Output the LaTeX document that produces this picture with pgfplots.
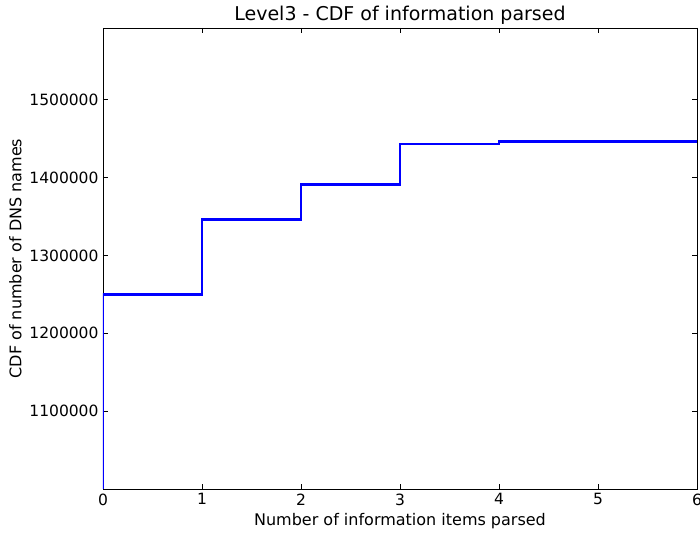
\documentclass[border=0pt]{standalone}
\usepackage{fontspec}
\setmainfont{DejaVu Sans}
\usepackage{pgfplots}
\pgfplotsset{compat=1.18}
\begin{document}
\begin{tikzpicture}[x=1pt,y=1pt]
\path[use as bounding box] (-103,-46) rectangle (597,489);
\begin{axis}[
  at={(0,0)}, anchor=south west,
  scale only axis,
  width=594pt, height=461pt,
  xmin=0, xmax=6,
  ymin=1000000, ymax=1592000,
  xtick={0,1,2,3,4,5,6},
  xticklabels={0,1,2,3,4,5,6},
  ytick={1100000,1200000,1300000,1400000,1500000},
  yticklabels={1100000,1200000,1300000,1400000,1500000},
  scaled y ticks=false,
  tick align=inside,
  major tick length=5pt,
  tick style={black, line width=0.6pt},
  axis line style={black, line width=0.9pt},
  tick label style={font=\fontsize{15.5}{18}\selectfont},
  xticklabel style={yshift=-1pt},
  yticklabel style={xshift=-1pt},
  title={Level3 - CDF of information parsed},
  title style={font=\fontsize{19}{22}\selectfont, yshift=-6pt},
  xlabel={Number of information items parsed},
  ylabel={CDF of number of DNS names},
  xlabel style={font=\fontsize{16}{19}\selectfont, yshift=-1pt},
  ylabel style={font=\fontsize{16}{19}\selectfont, yshift=1pt},
  clip=true,
]
\addplot[const plot, color={rgb,255:red,0;green,0;blue,255}, line width=2.8pt] coordinates {
  (0,1000000) (0,1249500) (1,1345600) (2,1391300) (3,1443000) (4,1446400) (6,1446400)
};
\end{axis}
\end{tikzpicture}
\end{document}
